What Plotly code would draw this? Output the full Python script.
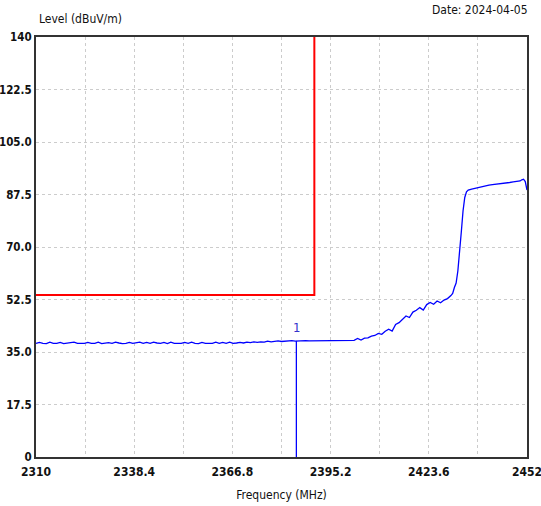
import plotly.graph_objects as go

# ---- data ----
flat_freq = list(range(2310, 2400))
flat_level = [
    37.9, 38.2, 37.9, 37.8, 38.3, 37.9, 37.9, 38.2, 37.8, 37.9,
    38.0, 38.3, 37.9, 37.8, 37.9, 38.2, 37.9, 37.9, 38.3, 37.8,
    37.9, 38.1, 37.9, 38.3, 38.0, 37.8, 37.9, 38.2, 37.9, 38.0,
    38.3, 37.9, 38.2, 37.9, 38.3, 38.0, 37.9, 38.2, 37.8, 38.3,
    37.9, 37.9, 37.9, 38.2, 37.9, 38.3, 37.9, 37.8, 38.2, 37.9,
    38.0, 37.9, 38.3, 37.9, 38.2, 37.9, 38.3, 37.9, 38.0, 38.2,
    38.0, 38.3, 38.1, 38.4, 38.2, 38.4, 38.3, 38.6, 38.4, 38.5,
    38.7, 38.5, 38.6, 38.5, 38.8, 38.6, 38.7, 38.7, 38.8, 38.7,
    38.7, 38.7, 38.8, 38.8, 38.7, 38.8, 38.8, 38.8, 38.8, 38.9,
]
rise_freq = [
    2400, 2401, 2402, 2403, 2404, 2405, 2406, 2407, 2408, 2409,
    2410, 2411, 2412, 2413, 2414, 2415, 2416, 2417, 2418, 2419,
    2420, 2421, 2422, 2423, 2424, 2425, 2426, 2427, 2428, 2429,
    2430, 2430.5, 2431, 2431.5, 2432, 2432.5, 2433, 2433.5, 2434, 2434.5,
    2435, 2436, 2437, 2438, 2439, 2440, 2441, 2442, 2443, 2444,
    2445, 2446, 2447, 2448, 2449, 2450, 2450.5, 2451, 2451.5, 2452,
]
rise_level = [
    38.8, 38.9, 38.9, 39.5, 39.0, 39.6, 39.7, 40.3, 40.5, 41.2,
    40.9, 41.9, 42.6, 42.0, 44.2, 44.8, 46.0, 47.0, 46.5, 48.3,
    48.9, 49.8, 49.0, 50.8, 51.5, 50.9, 52.0, 51.4, 52.3, 52.8,
    53.8, 54.5, 56.5, 58.0, 62.0, 67.5, 75.0, 82.0, 86.5, 88.4,
    89.0, 89.3, 89.6, 89.9, 90.2, 90.3, 90.6, 90.8, 90.9, 91.1,
    91.3, 91.2, 91.5, 91.7, 91.8, 92.0, 92.4, 92.6, 91.8, 89.0,
]
freq = flat_freq + rise_freq
level = flat_level + rise_level

limit_freq = [2310, 2390.5, 2390.5]
limit_level = [54, 54, 140]

marker_freq = 2385.3
marker_level = 38.7
marker_label = "1"

x_ticks = [2310, 2338.4, 2366.8, 2395.2, 2423.6, 2452]
x_tick_text = ["2310", "2338.4", "2366.8", "2395.2", "2423.6", "2452"]
y_ticks = [0, 17.5, 35, 52.5, 70, 87.5, 105, 122.5, 140]
y_tick_text = ["0", "17.5", "35.0", "52.5", "70.0", "87.5", "105.0", "122.5", "140"]

FONT = "DejaVu Sans Condensed, Liberation Sans Narrow, Liberation Sans, sans-serif"
TXT = "#111111"

fig = go.Figure()
fig.add_trace(go.Scatter(x=freq, y=level, mode="lines",
                         line=dict(color="#0000FF", width=1.3), showlegend=False))
fig.add_trace(go.Scatter(x=limit_freq, y=limit_level, mode="lines",
                         line=dict(color="#FF0000", width=2), showlegend=False))
fig.add_trace(go.Scatter(x=[marker_freq, marker_freq], y=[0, marker_level], mode="lines",
                         line=dict(color="#0000FF", width=1.3), showlegend=False))
fig.add_annotation(x=marker_freq, y=marker_level + 4.6, text=marker_label, showarrow=False,
                   font=dict(family=FONT, size=13, color="#3333CC"))

fig.add_annotation(xref="paper", yref="paper", x=0.003, y=1.0, yshift=9,
                   xanchor="left", yanchor="bottom", text="Level (dBuV/m)", showarrow=False,
                   font=dict(family=FONT, size=12, color=TXT))
fig.add_annotation(xref="paper", yref="paper", x=1.006, y=1.0, yshift=18,
                   xanchor="right", yanchor="bottom", text="Date: 2024-04-05", showarrow=False,
                   font=dict(family=FONT, size=12, color=TXT))

grid = dict(gridcolor="#CCCCCC", griddash="dot", gridwidth=1)
fig.update_xaxes(range=[2310, 2452], tickvals=x_ticks, ticktext=x_tick_text,
                 showline=True, linecolor="#333333", linewidth=2, mirror=True,
                 ticks="", zeroline=False, automargin=False, ticklabeloverflow="allow",
                 ticklabelstandoff=3,
                 **grid,
                 minor=dict(dtick=14.2, tick0=2310, showgrid=True, gridcolor="#CCCCCC",
                            griddash="dot", gridwidth=1),
                 tickfont=dict(family=FONT, size=12, color=TXT, weight="bold"),
                 title=dict(text="Frequency (MHz)", font=dict(family=FONT, size=12, color=TXT),
                            standoff=12))
fig.update_yaxes(range=[0, 140], tickvals=y_ticks, ticktext=y_tick_text,
                 showline=True, linecolor="#333333", linewidth=2, mirror=True,
                 ticks="", zeroline=False, automargin=False, ticklabeloverflow="allow",
                 **grid,
                 ticklabelstandoff=0,
                 tickfont=dict(family=FONT, size=11.5, color=TXT, weight="bold"))
fig.update_layout(width=541, height=506, margin=dict(l=36, r=14, t=37, b=49),
                  plot_bgcolor="white", paper_bgcolor="white")
fig.write_html("out.html", config={"displayModeBar": False},
               post_script="document.body.style.margin='0';document.body.style.overflow='hidden';")
